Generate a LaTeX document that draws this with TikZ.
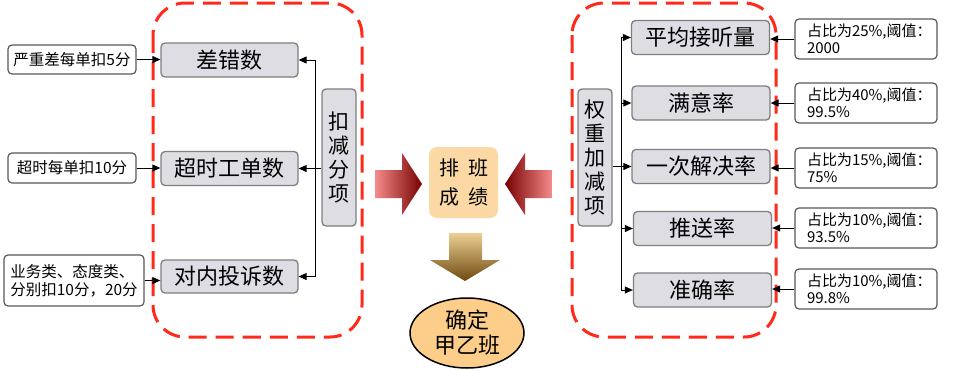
\documentclass[tikz,border=0pt]{standalone}
\usepackage{fontspec}
\setmainfont{Noto Sans CJK SC}
\usetikzlibrary{arrows.meta,shapes.geometric}
\definecolor{grayfill}{HTML}{DDDDE3}
\definecolor{grayline}{HTML}{7F7F7F}
\definecolor{infoline}{HTML}{595959}
\definecolor{dashred}{HTML}{FF2A1A}
\definecolor{peach}{HTML}{FCD9A4}
\definecolor{ellfill}{HTML}{FDCE8A}
\definecolor{pinkL}{HTML}{F58C8C}
\definecolor{redD}{HTML}{780000}
\definecolor{tanL}{HTML}{EDCF94}
\definecolor{brownD}{HTML}{6E4A10}
\tikzset{
 graybox/.style={draw=grayline, line width=1.3pt, fill=grayfill, rounded corners=4pt, minimum width=138pt, minimum height=34pt, inner sep=0pt, font=\fontsize{22}{24}\selectfont},
 vbox/.style={draw=grayline, line width=1.3pt, fill=grayfill, rounded corners=4pt, minimum width=34pt, minimum height=137pt, inner sep=0pt, align=center, font=\fontsize{21}{24}\selectfont},
 infobox/.style={draw=infoline, line width=1.2pt, fill=white, rounded corners=4pt, inner sep=0pt, minimum width=142pt, minimum height=40pt, text width=118pt, align=left, font=\fontsize{15}{17}\selectfont},
 leftbox/.style={draw=infoline, line width=1.2pt, fill=white, rounded corners=4pt, inner sep=0pt, align=left, font=\fontsize{15.5}{18}\selectfont},
 arr/.style={line width=1pt, -{Triangle[length=8pt,width=7pt]}},
 plainline/.style={line width=1pt},
 region/.style={draw=dashred, line width=3pt, dash pattern=on 18pt off 9pt, rounded corners=32pt},
}
\begin{document}
\begin{tikzpicture}[x=1pt,y=-1pt]
\useasboundingbox (0,0) rectangle (967,370);
\fill[white] (0,0) rectangle (967,370);

% dashed regions
\draw[region] (153,3) rectangle (362,337);
\draw[region] (572,3) rectangle (776,337);

% left side
\node[leftbox, minimum width=128pt, minimum height=29pt] (a1) at (72,59.5) {严重差每单扣5分};
\node[leftbox, minimum width=128pt, minimum height=30pt] (a2) at (72,168) {超时每单扣10分};
\node[leftbox, minimum width=140pt, minimum height=51pt] (a3) at (74,280.5) {业务类、态度类、\\分别扣10分，20分};

\node[graybox, minimum width=137pt] (cuo) at (229.5,60) {差错数};
\node[graybox, minimum width=137pt] (chao) at (229.5,168.5) {超时工单数};
\node[graybox, minimum width=137pt, minimum height=33pt] (tou) at (229.5,276.5) {对内投诉数};
\node[vbox] (kou) at (339,157.5) {扣\\减\\分\\项};

\draw[arr] (a1.east) -- (a1.east -| cuo.west);
\draw[arr] (a2.east) -- (a2.east -| chao.west);
\draw[arr] (a3.east) -- (a3.east -| tou.west);

\coordinate (busL) at (315,168.5);
\draw[plainline] (kou.west |- busL) -- (busL);
\draw[arr] (busL) -- (chao.east);
\draw[arr] (busL) |- (cuo.east);
\draw[arr] (busL) |- (tou.east);

% center
\shade[left color=pinkL, right color=redD] (375,170) -- (402,170) -- (402,153) -- (422,184) -- (402,215) -- (402,198) -- (375,198) -- cycle;
\shade[left color=redD, right color=pinkL] (552,170) -- (525,170) -- (525,153) -- (505,184) -- (525,215) -- (525,198) -- (552,198) -- cycle;
\node[fill=peach, rounded corners=8pt, minimum width=69pt, minimum height=71pt, inner sep=0pt, align=center, font=\fontsize{20}{29}\selectfont] (score) at (463.5,182.5) {排\hspace{9pt}班\\成\hspace{9pt}绩};
\shade[top color=tanL, bottom color=brownD] (449,233) -- (482,233) -- (482,260) -- (500,260) -- (465,281) -- (430,260) -- (449,260) -- cycle;
\node[ellipse, draw=black, line width=1.5pt, fill=ellfill, minimum width=114pt, minimum height=70pt, inner sep=0pt, align=center, font=\fontsize{22}{25}\selectfont] (res) at (467,333) {确定\\甲乙班};

% right side
\node[vbox] (quan) at (595,157.5) {权\\重\\加\\减\\项};
\node[graybox] (g1) at (700.5,37.5) {平均接听量};
\node[graybox] (g2) at (701,103) {满意率};
\node[graybox] (g3) at (701,166.5) {一次解决率};
\node[graybox] (g4) at (702.5,228.5) {推送率};
\node[graybox] (g5) at (702.5,290) {准确率};

\coordinate (busR) at (621,166.5);
\draw[plainline] (quan.east |- busR) -- (busR);
\draw[arr] (busR) -- (g3.west);
\draw[arr] (busR) |- (g1.west);
\draw[arr] (busR) |- (g2.west);
\draw[arr] (busR) |- (g4.west);
\draw[arr] (busR) |- (g5.west);

\node[infobox] (i1) at (866,39) {占比为25\%,阈值：\\2000};
\node[infobox] (i2) at (866,103) {占比为40\%,阈值：\\99.5\%};
\node[infobox] (i3) at (866,168) {占比为15\%,阈值：\\75\%};
\node[infobox] (i4) at (866,228) {占比为10\%,阈值：\\93.5\%};
\node[infobox] (i5) at (866,289) {占比为10\%,阈值：\\99.8\%};

\draw[arr] (i1.west) -- (i1.west -| g1.east);
\draw[arr] (i2.west) -- (i2.west -| g2.east);
\draw[arr] (i3.west) -- (i3.west -| g3.east);
\draw[arr] (i4.west) -- (i4.west -| g4.east);
\draw[arr] (i5.west) -- (i5.west -| g5.east);
\end{tikzpicture}
\end{document}
